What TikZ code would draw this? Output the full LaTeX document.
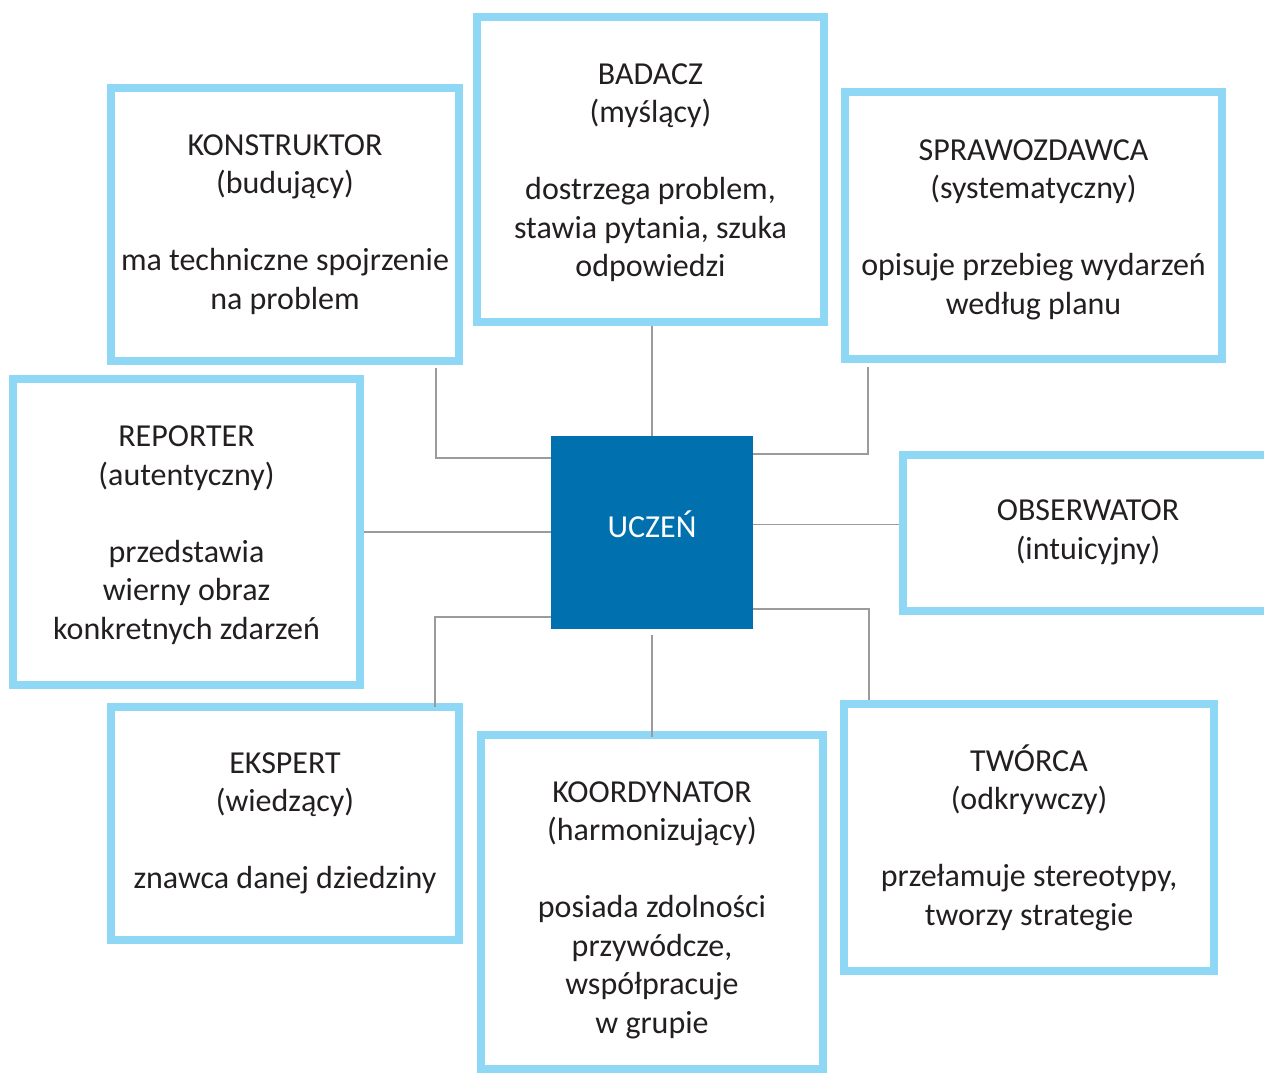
\documentclass[tikz,border=0pt]{standalone}
\usepackage{fontspec}
\setmainfont{Carlito}
\usetikzlibrary{positioning}
\definecolor{ramka}{HTML}{8ED8F6}
\definecolor{srodek}{HTML}{0071AE}
\definecolor{linia}{HTML}{9A9B9F}
\definecolor{tekst}{HTML}{231F20}
\newcommand{\odstep}{\\[38.5pt]}
\newcommand{\wdol}[1]{\rule{0pt}{#1}}

\begin{document}
\begin{tikzpicture}[x=1pt,y=-1pt,
  rola/.style={draw=ramka, line width=8pt, fill=white, align=center,
    inner sep=0pt, text=tekst, font=\fontsize{32}{38.5}\selectfont},
  srodkowy/.style={fill=srodek, text=white, inner sep=0pt,
    minimum width=202pt, minimum height=193pt, text height=20pt, text depth=10pt,
    font=\fontsize{32}{38.5}\selectfont},
  lacznik/.style={draw=linia, line width=1.6pt}]
  \clip (0,0) rectangle (1264,1073);
  \fill[white] (0,0) rectangle (1264,1073);

  \node[srodkowy] (uczen) at (652,532.5) {UCZEŃ};

  \node[rola, minimum width=348pt, minimum height=273pt] (konstruktor) at (285,224.5)
    {KONSTRUKTOR\\(budujący)\odstep ma techniczne spojrzenie\\na problem};
  \node[rola, minimum width=347pt, minimum height=305pt] (badacz) at (650.5,169.5)
    {\wdol{27pt}BADACZ\\(myślący)\odstep dostrzega problem,\\stawia pytania, szuka\\odpowiedzi};
  \node[rola, minimum width=377pt, minimum height=267pt] (sprawozdawca) at (1033.5,225.5)
    {\wdol{29pt}SPRAWOZDAWCA\\(systematyczny)\odstep opisuje przebieg wydarzeń\\według planu};
  \node[rola, minimum width=347pt, minimum height=306pt] (reporter) at (186.5,532)
    {\wdol{27pt}REPORTER\\(autentyczny)\odstep przedstawia\\wierny obraz\\konkretnych zdarzeń};
  \node[rola, minimum width=370pt, minimum height=156pt] (obserwator) at (1088,532.5)
    {OBSERWATOR\\(intuicyjny)};
  \node[rola, minimum width=348pt, minimum height=233pt] (ekspert) at (285,823.5)
    {EKSPERT\\(wiedzący)\odstep znawca danej dziedziny};
  \node[rola, minimum width=342pt, minimum height=334pt] (koordynator) at (652,902)
    {\wdol{37pt}KOORDYNATOR\\(harmonizujący)\odstep posiada zdolności\\przywódcze,\\współpracuje\\w grupie};
  \node[rola, minimum width=370pt, minimum height=267pt] (tworca) at (1029,837.5)
    {TWÓRCA\\(odkrywczy)\odstep przełamuje stereotypy,\\tworzy strategie};

  % polaczenia z uczniem
  \draw[lacznik] ([yshift=-22pt]uczen.north west) -| ([shift={(-27pt,-3pt)}]konstruktor.south east);
  \draw[lacznik] (uczen.north) -- (uczen.north |- badacz.south);
  \draw[lacznik] ([yshift=-18pt]uczen.north east) -| ([shift={(27pt,-4pt)}]sprawozdawca.south west);
  \draw[lacznik] (reporter.east) -- (reporter.east -| uczen.west);
  \draw[lacznik] ([yshift=8pt]uczen.east) -- ([yshift=8pt]obserwator.west);
  \draw[lacznik] ([yshift=12pt]uczen.south west) -| ([shift={(-28pt,-4pt)}]ekspert.north east);
  \draw[lacznik] ([yshift=-6pt]uczen.south) -- ([yshift=-6pt]koordynator.north);
  \draw[lacznik] ([yshift=20pt]uczen.south east) -| ([xshift=29pt]tworca.north west);
\end{tikzpicture}
\end{document}
